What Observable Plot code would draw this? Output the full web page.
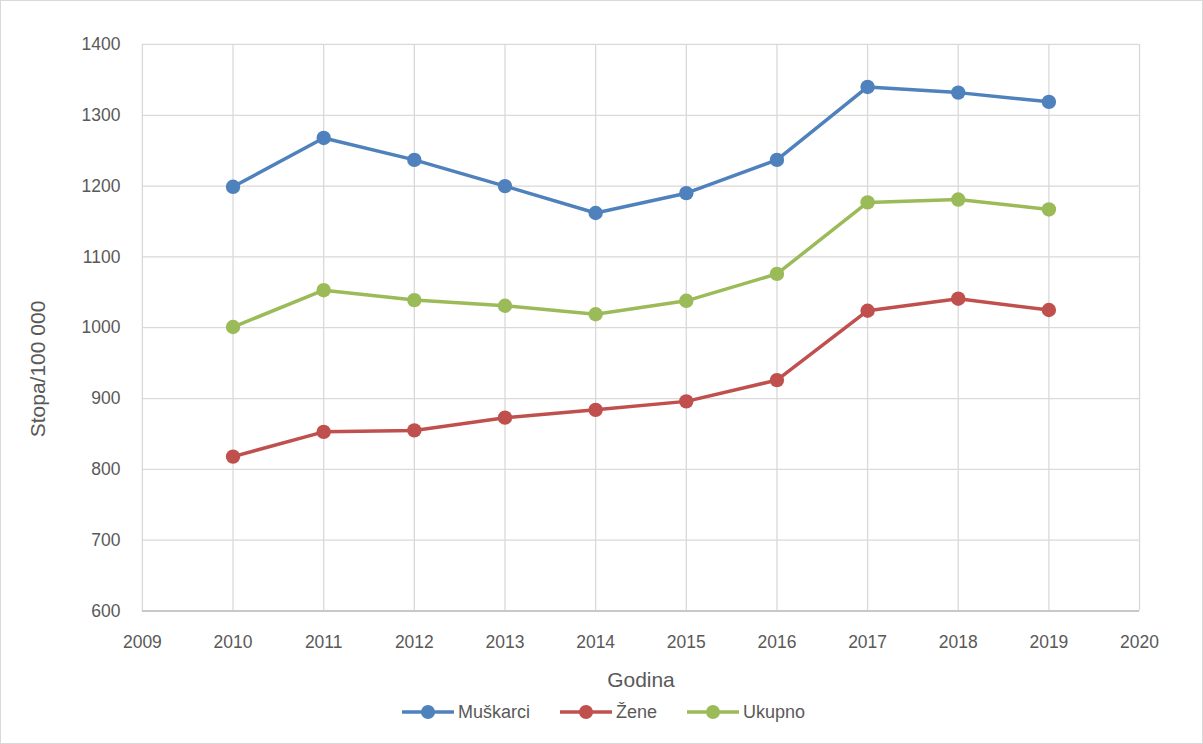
<!DOCTYPE html>
<html>
<head>
<meta charset="utf-8">
<script src="https://cdn.jsdelivr.net/npm/d3@7"></script>
<script src="https://cdn.jsdelivr.net/npm/@observablehq/plot@0.6"></script>
<style>
  html, body { margin: 0; padding: 0; background: #fff; }
  #wrap { position: relative; width: 1203px; height: 744px; box-sizing: border-box; border: 1px solid #D9D9D9; background: #fff; overflow: hidden; font-family: "Liberation Sans", Arial, sans-serif; }
  #chart { position: absolute; left: -1px; top: -1px; }
  #legend { position: absolute; left: 0; top: 699px; width: 1201px; height: 24px; display: flex; justify-content: center; align-items: center; gap: 30px; font-size: 18px; color: #595959; padding-left: 4px; box-sizing: border-box;}
  .item { display: flex; align-items: center; gap: 4px; }
  #ylabel { position: absolute; left: 37px; top: 368px; transform: translate(-50%, -50%) rotate(-90deg); white-space: nowrap; font-size: 21px; color: #595959; }
</style>
</head>
<body>
<div id="wrap">
  <div id="chart"></div>
  <div id="ylabel"></div>
  <div id="legend"></div>
</div>
<script>
const years = [2010, 2011, 2012, 2013, 2014, 2015, 2016, 2017, 2018, 2019];
const muskarci = [1199, 1268, 1237, 1200, 1162, 1190, 1237, 1340, 1332, 1319];
const zene = [818, 853, 855, 873, 884, 896, 926, 1024, 1041, 1025];
const ukupno = [1001, 1053, 1039, 1031, 1019, 1038, 1076, 1177, 1181, 1167];
const seriesNames = ["Muškarci", "Žene", "Ukupno"];
const seriesColors = ["#4F81BD", "#C0504D", "#9BBB59"];
const xTicks = [2009, 2010, 2011, 2012, 2013, 2014, 2015, 2016, 2017, 2018, 2019, 2020];
const yTicks = [600, 700, 800, 900, 1000, 1100, 1200, 1300, 1400];
const xLabel = "Godina";
const yLabel = "Stopa/100 000";

const seriesValues = [muskarci, zene, ukupno];
const data = [];
seriesNames.forEach((s, i) => {
  years.forEach((y, j) => data.push({series: s, year: y, value: seriesValues[i][j]}));
});

const chart = Plot.plot({
  width: 1203,
  height: 700,
  marginLeft: 142,
  marginRight: 63,
  marginTop: 44,
  marginBottom: 89,
  style: {fontFamily: "'Liberation Sans', Arial, sans-serif", fontSize: "17.5px", color: "#595959", background: "transparent"},
  x: {domain: [2009, 2020], label: null},
  y: {domain: [600, 1400], label: null},
  color: {domain: seriesNames, range: seriesColors},
  marks: [
    Plot.gridX(xTicks, {stroke: "#D9D9D9", strokeOpacity: 1, strokeWidth: 1.3}),
    Plot.gridY(yTicks, {stroke: "#D9D9D9", strokeOpacity: 1, strokeWidth: 1.3}),
    Plot.ruleY([600], {stroke: "#BFBFBF", strokeWidth: 1.3}),
    Plot.axisX(xTicks, {tickSize: 0, tickPadding: 25, tickFormat: d => String(d), label: null, fill: "#595959"}),
    Plot.axisY(yTicks, {tickSize: 0, tickPadding: 22, tickFormat: d => String(d), label: null, fill: "#595959"}),
    Plot.line(data, {x: "year", y: "value", z: "series", stroke: "series", strokeWidth: 3.5}),
    Plot.dot(data, {x: "year", y: "value", fill: "series", r: 7.2}),
    Plot.text([xLabel], {frameAnchor: "bottom", dy: 76, fontSize: 21, fill: "#595959"})
  ]
});
document.getElementById("chart").appendChild(chart);
document.getElementById("ylabel").textContent = yLabel;

const legend = document.getElementById("legend");
seriesNames.forEach((s, i) => {
  const item = document.createElement("div");
  item.className = "item";
  item.innerHTML = `<svg width="52" height="16"><line x1="0" y1="8" x2="52" y2="8" stroke="${seriesColors[i]}" stroke-width="3.5"/><circle cx="26" cy="8" r="7" fill="${seriesColors[i]}"/></svg><span>${s}</span>`;
  legend.appendChild(item);
});
</script>
</body>
</html>
